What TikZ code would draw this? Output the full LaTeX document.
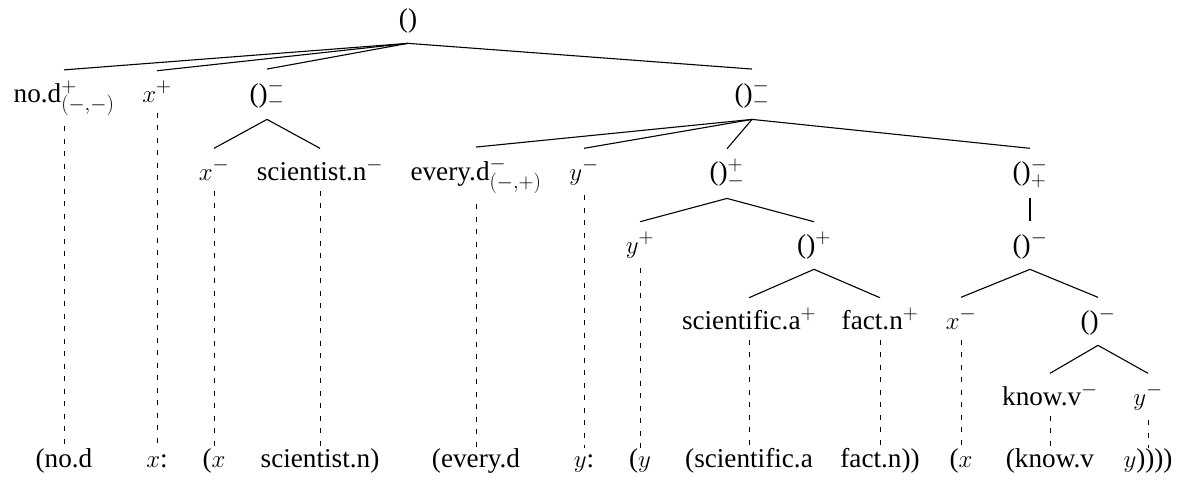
\documentclass[tikz,border=0pt]{standalone}
\usepackage[no-math]{fontspec}
\setmainfont{Liberation Serif}
\begin{document}
\begin{tikzpicture}[x=1pt,y=-1pt,line width=1.1pt,
  every node/.style={font=\fontsize{27.2}{32}\selectfont},
  tn/.style={anchor=base,inner xsep=1pt,inner ysep=10pt},
  bt/.style={anchor=base,inner xsep=1pt,inner ysep=0.5pt,text height=18pt,text depth=5pt},
  dl/.style={line width=0.9pt,dash pattern=on 5pt off 7.5pt}]
\useasboundingbox (0,0) rectangle (1179,490);
% tree nodes
\node[tn] (r) at (408,27) {()};
\node[tn] (nod) at (64,102) {no.d$^{+}_{(-,-)}$};
\node[tn] (xp1) at (157,102) {$x^{+}$};
\node[tn] (pa) at (267,102) {()$^{-}_{-}$};
\node[tn] (pb) at (752,102) {()$^{-}_{-}$};
\node[tn] (xm1) at (214,180) {$x^{-}$};
\node[tn] (sci) at (320,180) {scientist.n$^{-}$};
\node[tn] (every) at (476,180) {every.d$^{-}_{(-,+)}$};
\node[tn] (ym1) at (584,180) {$y^{-}$};
\node[tn] (pc) at (727,180) {()$^{+}_{-}$};
\node[tn] (pd) at (1030,180) {()$^{-}_{+}$};
\node[tn] (yp) at (640,253) {$y^{+}$};
\node[tn] (pe) at (814,253) {()$^{+}$};
\node[tn] (pf) at (1030,253) {()$^{-}$};
\node[tn] (scia) at (749,329) {scientific.a$^{+}$};
\node[tn] (fact) at (880,329) {fact.n$^{+}$};
\node[tn] (xm2) at (961,329) {$x^{-}$};
\node[tn] (pg) at (1098,329) {()$^{-}$};
\node[tn] (know) at (1050,405) {know.v$^{-}$};
\node[tn] (ym2) at (1148,405) {$y^{-}$};
% bottom text
\node[bt] (b1) at (64,467) {(no.d};
\node[bt] (b2) at (157,467) {$x$:};
\node[bt] (b3) at (214,467) {($x$};
\node[bt] (b4) at (320,467) {scientist.n)};
\node[bt] (b5) at (476,467) {(every.d};
\node[bt] (b6) at (584,467) {$y$:};
\node[bt] (b7) at (640,467) {($y$};
\node[bt] (b8) at (749,467) {(scientific.a};
\node[bt] (b9) at (880,467) {fact.n))};
\node[bt] (b10) at (961,467) {($x$};
\node[bt] (b11) at (1050,467) {(know.v};
\node[bt] (b12) at (1148,467) {$y$))))};
% tree edges
\foreach \c in {nod,xp1,pa,pb} \draw (r.south) -- (\c.north);
\foreach \c in {xm1,sci} \draw (pa.south) -- (\c.north);
\foreach \c in {every,ym1,pc,pd} \draw (pb.south) -- (\c.north);
\foreach \c in {yp,pe} \draw (pc.south) -- (\c.north);
\foreach \c in {scia,fact} \draw (pe.south) -- (\c.north);
\draw (pd.south) -- (pf.north);
\foreach \c in {xm2,pg} \draw (pf.south) -- (\c.north);
\foreach \c in {know,ym2} \draw (pg.south) -- (\c.north);
% dashed links
\draw[dl] (nod.south) -- (b1.north);
\draw[dl] (xp1.south) -- (b2.north);
\draw[dl] (xm1.south) -- (b3.north);
\draw[dl] (sci.south) -- (b4.north);
\draw[dl] (every.south) -- (b5.north);
\draw[dl] (ym1.south) -- (b6.north);
\draw[dl] (yp.south) -- (b7.north);
\draw[dl] (scia.south) -- (b8.north);
\draw[dl] (fact.south) -- (b9.north);
\draw[dl] (xm2.south) -- (b10.north);
\draw[dl] (know.south) -- (b11.north);
\draw[dl] (ym2.south) -- (b12.north);
\end{tikzpicture}
\end{document}
